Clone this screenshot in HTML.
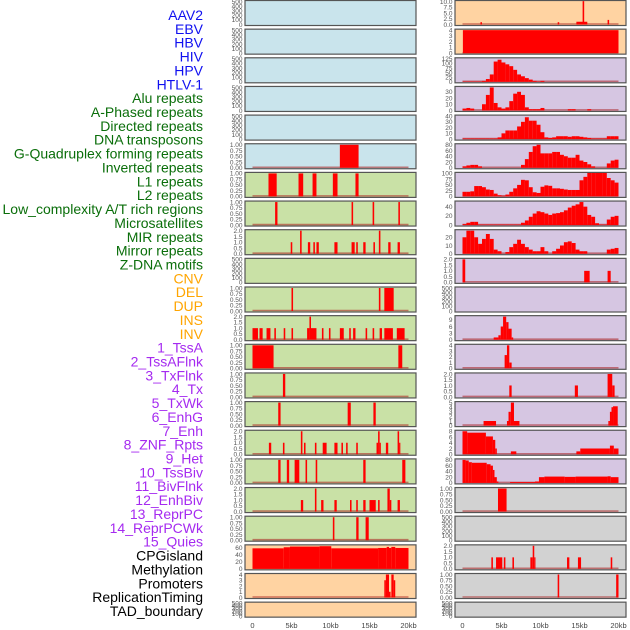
<!DOCTYPE html>
<html><head><meta charset="utf-8"><style>
html,body{margin:0;padding:0;background:#fff;width:630px;height:630px;overflow:hidden}
svg{display:block;font-family:"Liberation Sans",sans-serif}
</style></head><body>
<svg id="chart" width="630" height="630" viewBox="0 0 630 630"></svg>
<script>
// ---------- labels ----------
const labels = ["AAV2","EBV","HBV","HIV","HPV","HTLV-1","Alu repeats","A-Phased repeats","Directed repeats","DNA transposons","G-Quadruplex forming repeats","Inverted repeats","L1 repeats","L2 repeats","Low_complexity A/T rich regions","Microsatellites","MIR repeats","Mirror repeats","Z-DNA motifs","CNV","DEL","DUP","INS","INV","1_TssA","2_TssAFlnk","3_TxFlnk","4_Tx","5_TxWk","6_EnhG","7_Enh","8_ZNF_Rpts","9_Het","10_TssBiv","11_BivFlnk","12_EnhBiv","13_ReprPC","14_ReprPCWk","15_Quies","CPGisland","Methylation","Promoters","ReplicationTiming","TAD_boundary"];
const labelGroups = ["v","v","v","v","v","v","r","r","r","r","r","r","r","r","r","r","r","r","r","c","c","c","c","c","h","h","h","h","h","h","h","h","h","h","h","h","h","h","h","k","k","k","k","k"];
const xTickLabels = ["0","5kb","10kb","15kb","20kb"];
const xTickValues = [0,5,10,15,20];

// ---------- left column data: segments [startKb, endKb, value] ----------
const L6 = [[11.2,13.6,1]];
const L7 = [[2.05,3.1,1],[5.9,6.5,1],[7.7,8.2,1],[10.3,10.9,1],[13.2,13.6,1]];
const L8 = [[2.9,3.2,1],[12.7,12.9,1],[15.4,15.6,1],[18.7,18.9,1]];
const L9 = [[4.9,5.1,1],[6.1,6.3,2],[7.1,7.4,1],[7.8,8.0,1],[8.2,8.5,1],[10.5,10.9,1],[12.7,13.1,1],[13.3,13.5,1],[14.2,14.5,1],[15.5,15.7,1],[16.2,16.4,2],[17.4,17.7,1],[18.6,18.9,1]];
const L11 = [[5.0,5.2,1],[16.2,16.4,1],[16.9,18.1,1]];
const L12 = [[0,0.7,1],[0.9,1.3,1],[1.8,2.3,1],[2.8,3.0,1],[4.0,4.2,1],[5.0,5.2,1],[7.0,7.3,1],[7.3,7.5,2],[7.5,8.2,1],[8.9,9.1,1],[9.8,10.0,1],[11.2,11.7,1],[12.4,12.6,1],[12.9,13.2,1],[14.5,14.7,1],[15.4,15.6,1],[16.3,16.6,1],[16.9,18.0,1],[18.5,19.5,1]];
const L13 = [[0,2.7,1],[18.7,19.2,1]];
const L14 = [[3.9,4.2,1]];
const L15 = [[3.3,3.6,1],[12.2,12.6,1],[15.5,15.8,1]];
const L16 = [[2.1,2.4,1],[3.9,4.1,1],[6.2,6.4,2],[6.6,6.8,1],[8.0,8.2,1],[9.0,9.5,1],[10.5,10.9,1],[11.4,11.6,1],[12.0,12.2,1],[13.3,13.5,1],[15.9,16.1,1],[16.1,16.3,2],[16.3,16.4,1],[17.1,17.4,1],[18.6,18.8,2],[18.8,18.9,1]];
const L17 = [[3.3,3.6,1],[4.4,4.7,1],[5.4,6.0,1],[6.8,7.0,1],[8.1,8.3,1],[14.2,14.5,1],[19.2,19.6,1]];
const L18 = [[6.2,6.5,1],[8.0,8.2,2],[8.8,9.1,1],[10.5,10.8,1],[12.5,12.7,1],[13.3,13.5,1],[14.2,14.5,1],[15.0,15.8,1],[16.1,16.3,1],[17.3,17.6,2],[17.6,17.8,1],[18.6,18.9,1]];
const L19 = [[10.3,10.5,1],[13.3,13.6,1],[14.5,14.9,1]];
const L20 = [[0,4,58],[4,4.8,61],[4.8,8.6,63],[8.6,10.1,64],[10.1,16.1,58],[16.1,17.2,59],[17.2,17.5,62],[17.5,17.8,59],[17.8,18.3,62],[18.3,20,59]];
const L21 = [[16.9,17.1,3],[17.1,17.5,4],[17.5,17.7,1],[17.8,18.1,4],[18.1,18.3,3]];

// ---------- right column data ----------
const R1 = [[2.3,2.5,1],[12.2,12.4,1],[14.6,16.0,1.2],[15.4,15.6,11],[18.6,18.8,2]];
const R2 = [[0.05,20,4]];
// binned series, 0.5kb bins (40 bins)
const R3 = [2,2,2,2,2,5,15,40,110,120,105,95,85,65,40,30,20,12,5,2,5,0,0,0,0,0,0,0,0,0,0,0,0,0,0,0,0,0,0,0];
const R4 = [3,4,3,0,0,10,25,37,12,5,3,5,15,27,30,25,5,2,2,2,4,0,0,0,0,0,0,2,2,0,0,0,2,0,0,0,0,0,0,0];
const R5 = [1,1,1,1,1,1,1,1,1,3,10,15,15,15,22,30,38,32,32,25,12,3,2,3,5,5,5,4,5,5,4,3,2,1,1,1,1,5,5,5];
const R6 = [5,8,10,10,5,0,0,0,0,0,0,0,0,0,0,10,30,55,75,80,50,50,50,55,55,45,40,35,35,45,25,20,12,5,0,0,0,15,25,28];
const R7 = [20,20,22,45,45,40,30,28,12,5,3,8,20,35,50,72,70,40,18,15,42,48,46,35,35,33,30,28,28,28,70,85,110,110,110,110,110,80,70,60];
const R8 = [2,5,7,7,1,1,1,1,1,1,1,1,1,1,1,5,10,18,25,30,28,25,22,25,26,28,32,38,42,45,50,40,22,18,4,1,1,12,18,20];
const R9 = [20,28,28,20,12,18,24,18,5,3,0,2,8,12,17,12,8,5,3,3,8,3,0,3,6,10,14,15,13,5,3,3,0,0,0,0,0,5,6,7];
const R10 = [[0,0.35,2],[15.6,16.3,1],[18.6,19.0,1]];
const R12 = [[4.0,4.6,1],[4.6,4.9,2],[4.9,5.2,6],[5.2,5.6,10.5],[5.6,5.9,8],[5.9,6.3,5],[6.3,6.5,1]];
const R13 = [[5.4,5.7,2.3],[5.7,6.0,4],[6.0,6.3,1]];
const R14 = [[6.0,6.3,1],[14.4,14.8,1],[18.6,19.2,2],[19.2,19.5,1]];
const R15 = [[2.7,4.3,1],[5.7,5.9,1],[5.9,6.2,3],[6.2,6.6,5],[6.6,7.3,1],[18.7,18.9,1],[18.9,19.1,3],[19.1,19.3,4],[19.3,19.9,4.2]];
const R16 = [[0,0.6,8],[0.6,3,7.5],[3,3.9,6.2],[3.9,4.2,5],[4.2,4.4,2],[6.2,6.9,1],[14.6,15.1,1],[15.1,18.9,2],[18.9,19.4,3],[19.4,20,2]];
const R17 = [[0,0.4,80],[0.4,0.8,78],[0.8,1.2,72],[1.2,3.1,70],[3.1,3.6,65],[3.6,3.9,60],[3.9,4.1,45],[4.1,4.4,20],[4.4,4.6,5],[6.1,9.3,3],[9.3,9.8,5],[9.8,10.5,20],[10.5,13.1,22],[13.1,14.5,21],[14.5,18.6,22],[18.6,19,23],[19,20,20]];
const R18 = [[4.55,5.65,1]];
const R20 = [[3.7,3.9,1],[4.3,5.1,1],[5.3,5.5,1],[6.4,6.6,1],[8.7,9.0,1],[9.0,9.2,2],[9.2,9.3,1],[13.4,13.7,1],[14.8,15.2,1],[19.0,19.2,1]];
const R21 = [[12.2,12.4,1],[19.7,20.0,1]];

// tick sets
const T500 = [0,100,200,300,400,500];
const T1 = [0,0.25,0.5,0.75,1];
const T2 = [0,0.5,1,1.5,2];

const BG = {blue:"#c9e4ec",green:"#c9e1a6",orange:"#ffd3a2",purple:"#d6c6e2",grey:"#d2d2d2"};

const leftPanels = [
 {bg:"blue",ticks:T500},{bg:"blue",ticks:T500},{bg:"blue",ticks:T500},{bg:"blue",ticks:T500},{bg:"blue",ticks:T500},
 {bg:"blue",ticks:T1,seg:L6},
 {bg:"green",ticks:T1,seg:L7},{bg:"green",ticks:T1,seg:L8},{bg:"green",ticks:T2,seg:L9},{bg:"green",ticks:T500},
 {bg:"green",ticks:T1,seg:L11},{bg:"green",ticks:T2,seg:L12},{bg:"green",ticks:T1,seg:L13},{bg:"green",ticks:T1,seg:L14},
 {bg:"green",ticks:T1,seg:L15},{bg:"green",ticks:T2,seg:L16},{bg:"green",ticks:T1,seg:L17},{bg:"green",ticks:T2,seg:L18},
 {bg:"green",ticks:T1,seg:L19},
 {bg:"orange",ticks:[0,20,40,60],ymax:65,seg:L20},{bg:"orange",ticks:[0,1,2,3,4],seg:L21},{bg:"orange",ticks:T500}
];
const rightPanels = [
 {bg:"orange",ticks:[0,2.5,5,7.5,10],seg:R1},{bg:"orange",ticks:[0,1,2,3,4],seg:R2},
 {bg:"purple",ticks:[0,25,50,75,100,125],bins:R3},{bg:"purple",ticks:[0,10,20,30],ymax:37,bins:R4},
 {bg:"purple",ticks:[0,10,20,30,40],bins:R5},{bg:"purple",ticks:[0,20,40,60,80],bins:R6},
 {bg:"purple",ticks:[0,25,50,75,100],bins:R7},{bg:"purple",ticks:[0,20,40],ymax:50,bins:R8},
 {bg:"purple",ticks:[0,10,20],ymax:28,bins:R9},{bg:"purple",ticks:T2,seg:R10},{bg:"purple",ticks:T500},
 {bg:"purple",ticks:[0,3,6,9],ymax:10.5,seg:R12},{bg:"purple",ticks:[0,1,2,3,4],seg:R13},{bg:"purple",ticks:T2,seg:R14},
 {bg:"purple",ticks:[0,1,2,3,4,5],seg:R15},{bg:"purple",ticks:[0,2,4,6,8],seg:R16},{bg:"purple",ticks:[0,20,40,60,80],seg:R17},
 {bg:"grey",ticks:T1,seg:R18},{bg:"grey",ticks:T500},{bg:"grey",ticks:T2,seg:R20},{bg:"grey",ticks:T1,seg:R21},{bg:"grey",ticks:T500}
];

const NS = "http://www.w3.org/2000/svg";
const svg = document.getElementById("chart");
function mk(tag, attrs, parent){ const e=document.createElementNS(NS,tag); for(const k in attrs) e.setAttribute(k,attrs[k]); (parent||svg).appendChild(e); return e; }

function fmt(v, ticks){
  const mx = ticks[ticks.length-1];
  if (mx===1) return v.toFixed(2);
  if (mx===2 || mx===10) return v.toFixed(1);
  return String(v);
}

// labels
const groupColor = {v:"#1010f0",r:"#0a6e0a",c:"#ffa500",h:"#a52af0",k:"#000000"};
labels.forEach((t,i)=>{
  const el = mk("text",{x:203,y:15+i*13.86+5,"text-anchor":"end","font-size":"14",fill:groupColor[labelGroups[i]]});
  el.textContent = t;
  
  
});

function drawPanel(cfg, row, col){
  const px = col===0 ? 245 : 455, pw = 171;
  const top = 0.5 + row*28.65;
  const h = row===21 ? 15 : 25;
  const x0 = px + 7.5, kbw = 7.8;
  const xs = kb => x0 + kb*kbw;
  const ymax = cfg.ymax || cfg.ticks[cfg.ticks.length-1];
  const yb = top + h - 1, yr = h - 2;
  const ys = v => yb - Math.min(v,ymax*1.05)/ymax*yr;
  const g = mk("g",{});
  
  
  const bgr = mk("rect",{x:px,y:top,width:pw,height:h,fill:BG[cfg.bg],stroke:"#555",
    "stroke-width":"1.2"},g);
  
  
  const clipId = "c"+col+"_"+row;
  const cp = mk("clipPath",{id:clipId},g);
  mk("rect",{x:px+0.6,y:top+0.6,width:pw-1.2,height:h-1.2},cp);
  const bars = mk("g",{"clip-path":"url(#"+clipId+")"},g);
  let segs = [];
  if (cfg.seg) segs = cfg.seg;
  if (cfg.bins) segs = cfg.bins.map((v,i)=>[i*0.5,(i+1)*0.5,v]);
  if (segs.length){
    const bl = mk("line",{x1:xs(0),x2:xs(20),y1:yb-0.5,y2:yb-0.5,stroke:"rgba(170,30,30,0.55)","stroke-width":"1.6"},bars);
    
    
  }
  segs.forEach(s=>{
    if (s[2]<=0) return;
    const y = ys(s[2]);
    const r = mk("rect",{x:xs(s[0]),y:y,width:Math.max(1.2,xs(s[1])-xs(s[0])),height:yb-y,fill:"#ff0000"},bars);
    
    
  });
  // y ticks
  cfg.ticks.forEach(v=>{
    const ty = yb - v/ymax*yr;
    const t = mk("text",{x:px-2.5,y:ty+2.3,"text-anchor":"end","font-size":"6.5",fill:"#555"},g);
    t.textContent = fmt(v,cfg.ticks);
    
    
  });
}
leftPanels.forEach((c,i)=>drawPanel(c,i,0));
rightPanels.forEach((c,i)=>drawPanel(c,i,1));

// x ticks
[0,1].forEach(col=>{
  const x0 = (col===0?245:455)+7.5;
  xTickValues.forEach((v,i)=>{
    const t = mk("text",{x:x0+v*7.8,y:628,"text-anchor":"middle","font-size":"7.5",fill:"#444"});
    t.textContent = xTickLabels[i];
    
    
  });
});
</script>
</body></html>
